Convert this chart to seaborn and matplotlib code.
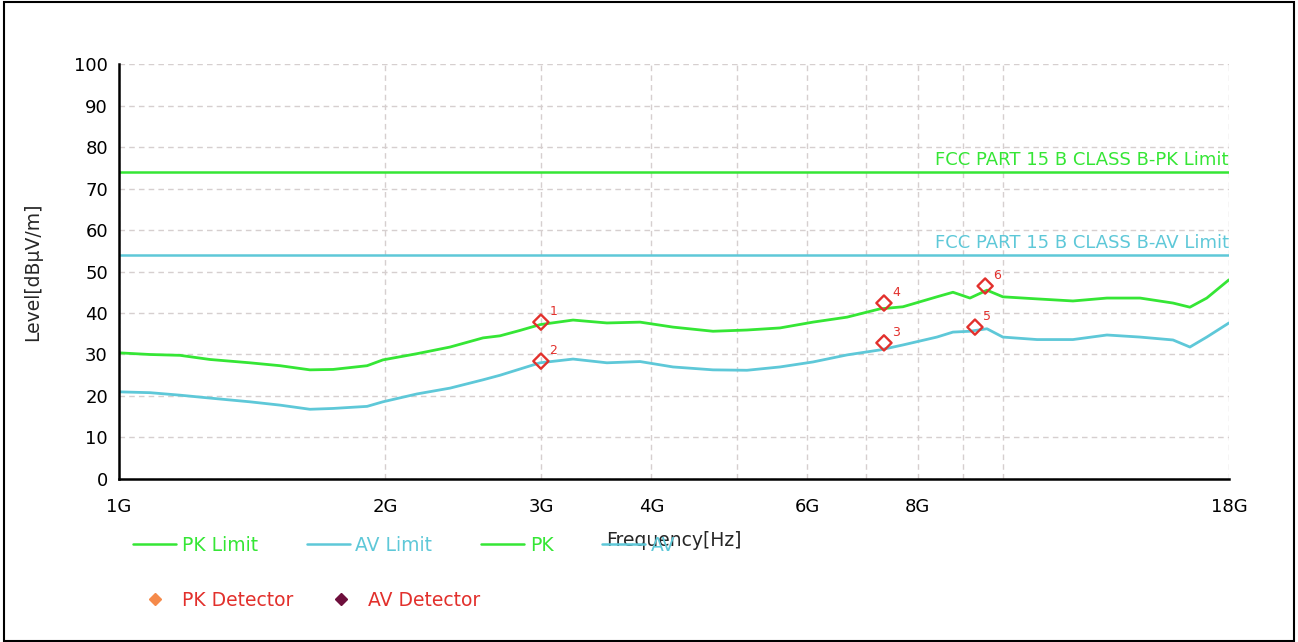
import matplotlib
matplotlib.use("Agg")
import matplotlib.pyplot as plt
import seaborn as sns
from matplotlib.lines import Line2D
from matplotlib.patches import Rectangle

# Frequency [GHz] and levels [dBuV/m]
freq_ghz = [1.00, 1.084, 1.172, 1.267, 1.406, 1.521, 1.644, 1.746, 1.908, 1.988,
            2.173, 2.368, 2.580, 2.697, 2.841, 2.993, 3.262, 3.563, 3.884, 4.232,
            4.696, 5.131, 5.591, 6.092, 6.658, 7.254, 7.701, 8.414, 8.773, 9.170,
            9.585, 9.99, 10.92, 11.99, 13.10, 14.28, 15.56, 16.26, 16.99, 18.0]
pk_level = [30.4, 30.0, 29.8, 28.8, 28.0, 27.3, 26.3, 26.4, 27.3, 28.7,
            30.2, 31.8, 34.0, 34.5, 35.8, 37.2, 38.3, 37.6, 37.8, 36.6,
            35.6, 35.9, 36.4, 37.8, 39.0, 41.0, 41.5, 43.9, 45.0, 43.6,
            45.5, 43.9, 43.4, 42.9, 43.6, 43.6, 42.4, 41.4, 43.6, 48.0]
av_level = [21.0, 20.8, 20.2, 19.5, 18.6, 17.8, 16.8, 17.0, 17.5, 18.6,
            20.5, 21.9, 23.9, 25.0, 26.5, 28.0, 28.9, 28.0, 28.3, 27.0,
            26.3, 26.2, 27.0, 28.2, 29.9, 31.1, 32.3, 34.2, 35.4, 35.6,
            36.2, 34.2, 33.6, 33.6, 34.7, 34.2, 33.5, 31.8, 34.2, 37.6]

limit_freq = [1.0, 18.0]
pk_limit = [74, 74]
av_limit = [54, 54]

det_no = ["1", "2", "3", "4", "5", "6"]
det_freq = [3.0, 3.0, 7.33, 7.33, 9.29, 9.54]
det_level = [37.8, 28.4, 32.8, 42.4, 36.6, 46.5]

xticks = [1, 2, 3, 4, 5, 6, 7, 8, 9, 10, 18]
xticklabels = ["1G", "2G", "3G", "4G", "", "6G", "", "8G", "", "", "18G"]

GREEN = "#35e635"
CYAN = "#5ec8d8"
RED = "#e2302c"

sns.set_style("white")
plt.rcParams["font.family"] = ["DejaVu Sans"]

fig = plt.figure(figsize=(12.98, 6.42), dpi=100)
ax = fig.add_axes([0.0917, 0.2539, 0.8551, 0.6464])

sns.lineplot(x=limit_freq, y=pk_limit, color=GREEN, lw=1.8, ax=ax)
sns.lineplot(x=limit_freq, y=av_limit, color=CYAN, lw=1.8, ax=ax)
sns.lineplot(x=freq_ghz, y=pk_level, color=GREEN, lw=2.0, ax=ax)
sns.lineplot(x=freq_ghz, y=av_level, color=CYAN, lw=2.0, ax=ax)
sns.scatterplot(x=det_freq, y=det_level, marker="D", s=60, facecolor="none",
                edgecolor=RED, linewidth=1.7, ax=ax, zorder=5)
for n, fx, fy in zip(det_no, det_freq, det_level):
    ax.annotate(n, (fx, fy), xytext=(6, 5), textcoords="offset points",
                color=RED, fontsize=9)

ax.text(limit_freq[1], pk_limit[0] + 0.8, "FCC PART 15 B CLASS B-PK Limit",
        ha="right", va="bottom", color=GREEN, fontsize=13)
ax.text(limit_freq[1], av_limit[0] + 0.8, "FCC PART 15 B CLASS B-AV Limit",
        ha="right", va="bottom", color=CYAN, fontsize=13)

ax.set_xscale("log")
ax.set_xlim(1, 18)
ax.set_ylim(0, 100)
ax.set_xticks(xticks)
ax.set_xticklabels(xticklabels)
ax.xaxis.set_minor_locator(matplotlib.ticker.NullLocator())
ax.set_yticks(range(0, 101, 10))
ax.tick_params(axis="both", direction="inout", length=10, width=1.5,
               labelsize=13, colors="black")
ax.tick_params(axis="x", pad=9)
ax.tick_params(axis="y", pad=3)
ax.grid(True, ls=(0, (4, 3)), color="#d6cfcf", lw=1)
for s in ["top", "right"]:
    ax.spines[s].set_visible(False)
for s in ["left", "bottom"]:
    ax.spines[s].set_color("black")
    ax.spines[s].set_linewidth(1.8)

ax.set_xlabel("Frequency[Hz]", fontsize=13.5)
ax.set_ylabel("Level[dBμV/m]", fontsize=13.5)
ax.xaxis.set_label_coords(0.5, -0.125)
ax.yaxis.set_label_coords(-0.069, 0.5)

row1 = [Line2D([], [], color=GREEN, lw=1.8), Line2D([], [], color=CYAN, lw=1.8),
        Line2D([], [], color=GREEN, lw=1.8), Line2D([], [], color=CYAN, lw=1.8)]
leg1 = fig.legend(row1, ["PK Limit", "AV Limit", "PK", "AV"], loc="center left",
                  bbox_to_anchor=(0.1025, 0.151), ncol=4, frameon=False,
                  handlelength=2.3, handletextpad=0.3, columnspacing=2.6,
                  borderpad=0, borderaxespad=0, fontsize=13.5)
for t, c in zip(leg1.get_texts(), [GREEN, CYAN, GREEN, CYAN]):
    t.set_color(c)

row2 = [Line2D([], [], marker="D", ls="none", color="#f58a4a", markersize=6.5),
        Line2D([], [], marker="D", ls="none", color="#6e0f3c", markersize=6.5)]
leg2 = fig.legend(row2, ["PK Detector", "AV Detector"], loc="center left",
                  bbox_to_anchor=(0.1025, 0.0654), ncol=2, frameon=False,
                  handlelength=2.3, handletextpad=0.3, columnspacing=1.4,
                  borderpad=0, borderaxespad=0, fontsize=13.5)
for t in leg2.get_texts():
    t.set_color(RED)

fig.patches.append(Rectangle((0.003, 0.002), 0.994, 0.995, transform=fig.transFigure,
                             fill=False, edgecolor="black", lw=1.5))

fig.savefig("out.png", dpi=100)
